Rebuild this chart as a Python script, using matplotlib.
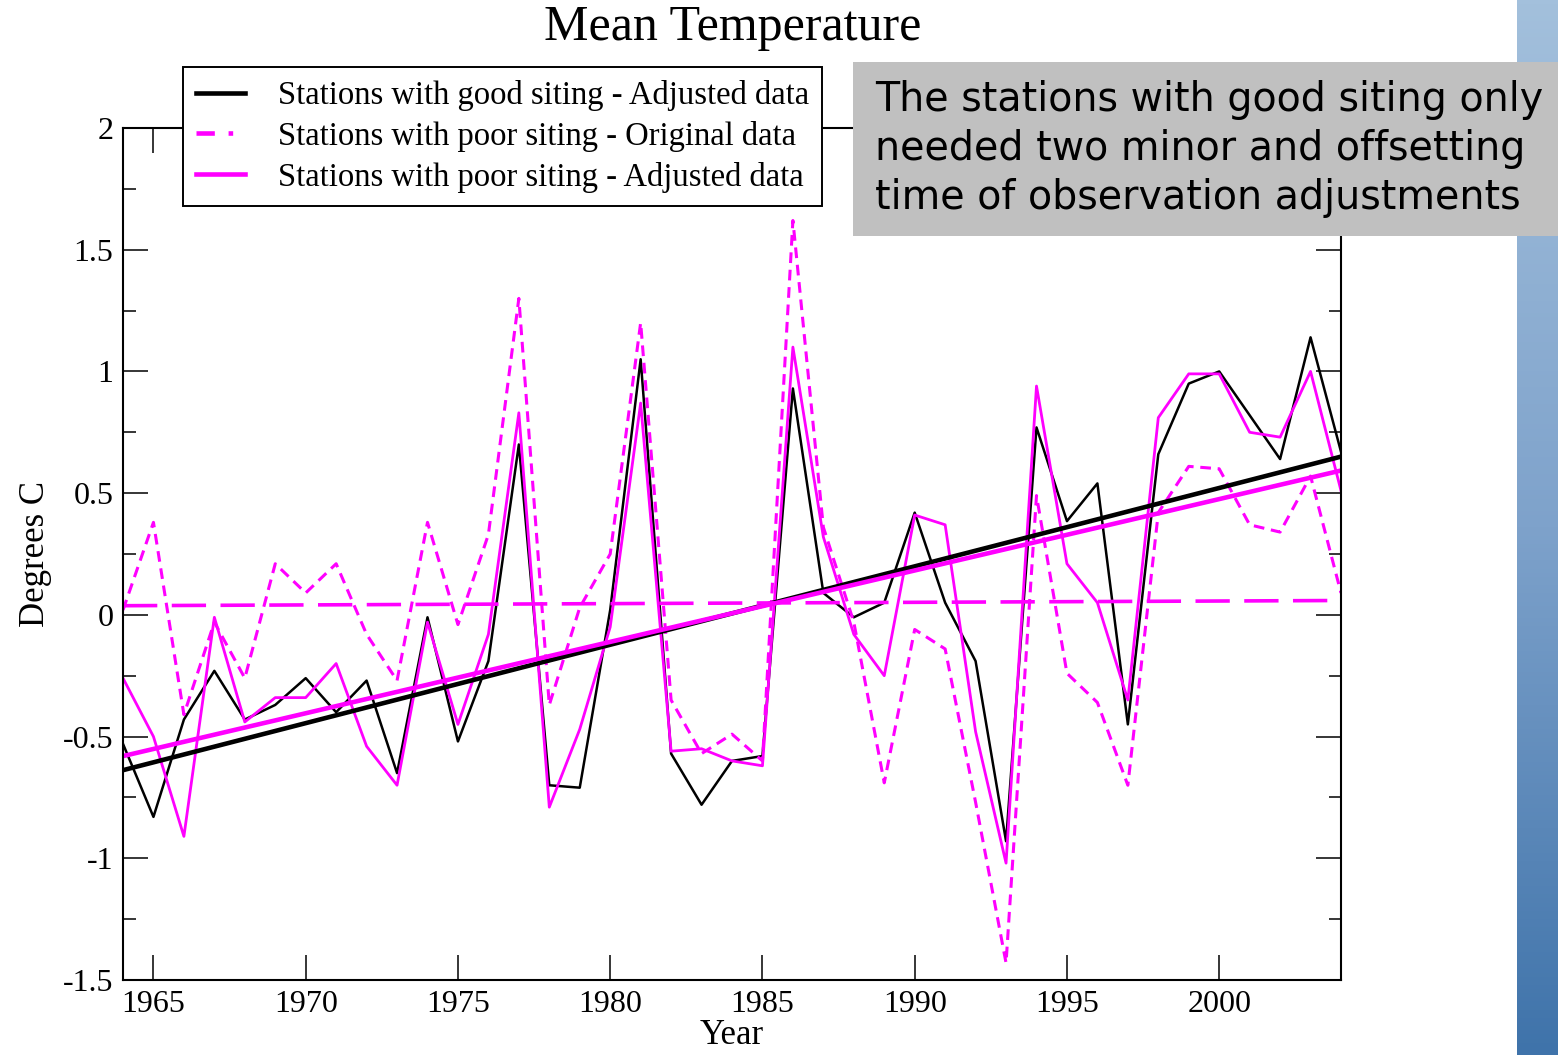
import numpy as np
import matplotlib.pyplot as plt
from matplotlib.patches import Rectangle
from matplotlib.colors import LinearSegmentedColormap
from matplotlib.ticker import MultipleLocator, FormatStrFormatter

years = np.arange(1964, 2005)

good_adjusted = [-0.53, -0.83, -0.43, -0.23, -0.43, -0.37, -0.26, -0.40, -0.27, -0.65,
                 -0.01, -0.52, -0.19, 0.70, -0.70, -0.71, 0.02, 1.05, -0.57, -0.78,
                 -0.60, -0.58, 0.93, 0.09, -0.01, 0.05, 0.42, 0.05, -0.19, -0.93,
                 0.77, 0.385, 0.54, -0.45, 0.66, 0.95, 1.00, 0.82, 0.64, 1.14, 0.67]

poor_original = [0.02, 0.38, -0.41, -0.03, -0.26, 0.21, 0.09, 0.21, -0.08, -0.27,
                 0.38, -0.04, 0.33, 1.30, -0.37, 0.03, 0.25, 1.20, -0.35, -0.57,
                 -0.49, -0.60, 1.62, 0.36, -0.03, -0.69, -0.06, -0.14, -0.77, -1.43,
                 0.49, -0.24, -0.36, -0.70, 0.42, 0.61, 0.60, 0.37, 0.34, 0.57, 0.09]

poor_adjusted = [-0.26, -0.50, -0.91, -0.01, -0.44, -0.34, -0.34, -0.20, -0.54, -0.70,
                 -0.03, -0.45, -0.08, 0.83, -0.79, -0.47, -0.05, 0.87, -0.56, -0.55,
                 -0.60, -0.62, 1.10, 0.32, -0.08, -0.25, 0.41, 0.37, -0.48, -1.02,
                 0.94, 0.21, 0.05, -0.35, 0.81, 0.99, 0.99, 0.75, 0.73, 1.00, 0.51]

labels = ["Stations with good siting - Adjusted data",
          "Stations with poor siting - Original data",
          "Stations with poor siting - Adjusted data"]

note = ("The stations with good siting only\n"
        "needed two minor and offsetting\n"
        "time of observation adjustments")

MAGENTA = "#ff00ff"

plt.rcParams["font.family"] = "Liberation Serif"
plt.rcParams["axes.unicode_minus"] = False

fig = plt.figure(figsize=(15.58, 10.55), dpi=100)

# slide-style blue strip on the right edge
strip = fig.add_axes([1517 / 1558, 0, 41 / 1558, 1])
grad = np.linspace(0, 1, 256).reshape(-1, 1)
blues = LinearSegmentedColormap.from_list("strip", ["#a3c0dc", "#7ea2cb", "#3f73aa"])
strip.imshow(grad, aspect="auto", cmap=blues, extent=[0, 1, 0, 1], origin="upper")
strip.set_axis_off()

ax = fig.add_axes([123 / 1558, 1 - 980 / 1055, (1341 - 123) / 1558, (980 - 128) / 1055])


def trend(y):
    k, b = np.polyfit(years, y, 1)
    return k * years + b


ax.plot(years, good_adjusted, color="black", lw=1.8)
ax.plot(years, poor_original, color=MAGENTA, lw=2.2, dashes=(3.5, 2.2))
ax.plot(years, poor_adjusted, color=MAGENTA, lw=2.0)

ax.plot(years, trend(good_adjusted), color="black", lw=3.3)
ax.plot(years, trend(poor_original), color=MAGENTA, lw=2.6, dashes=(9.5, 4))
ax.plot(years, trend(poor_adjusted), color=MAGENTA, lw=3.3)

ax.set_xlim(1964, 2004)
ax.set_ylim(-1.5, 2)
ax.set_xticks(np.arange(1965, 2001, 5))
ax.yaxis.set_major_locator(MultipleLocator(0.5))
ax.yaxis.set_minor_locator(MultipleLocator(0.25))
ax.yaxis.set_major_formatter(FormatStrFormatter("%g"))
ax.tick_params(which="both", direction="in", top=True, right=True, width=1.1,
               labelsize=23, pad=7)
ax.tick_params(which="major", length=18)
ax.tick_params(which="minor", length=9)
for s in ax.spines.values():
    s.set_linewidth(1.5)

ax.set_xlabel("Year", fontsize=25, labelpad=0)
ax.set_ylabel("Degrees C", fontsize=25, labelpad=8)
fig.text(733 / 1558, 1 - 28 / 1055, "Mean Temperature", fontsize=36,
         ha="center", va="center")

h1, = ax.plot([], [], color="black", lw=3.3)
h2, = ax.plot([], [], color=MAGENTA, lw=3.3, dashes=(4, 3, 1, 3))
h3, = ax.plot([], [], color=MAGENTA, lw=3.3)
leg = ax.legend([h1, h2, h3], labels, loc="upper left",
                bbox_to_anchor=(183 / 1558, 1 - 67 / 1055),
                bbox_transform=fig.transFigure, fontsize=23.5, frameon=True,
                fancybox=False, edgecolor="black", framealpha=1,
                borderaxespad=0, handlelength=1.5, handletextpad=1.0,
                labelspacing=0.3, borderpad=0.4)
leg.get_frame().set_linewidth(1.4)

# grey callout box over the top right corner
fig.add_artist(Rectangle((853 / 1558, 1 - 236 / 1055), (1558 - 853) / 1558, 174 / 1055,
                         transform=fig.transFigure, facecolor="#c0c0c0",
                         edgecolor="none", zorder=5))
fig.text(875 / 1558, 1 - 149 / 1055, note, fontsize=28.5, family="DejaVu Sans",
         ha="left", va="center", linespacing=1.3, zorder=6)

fig.savefig("out.png", dpi=100)
